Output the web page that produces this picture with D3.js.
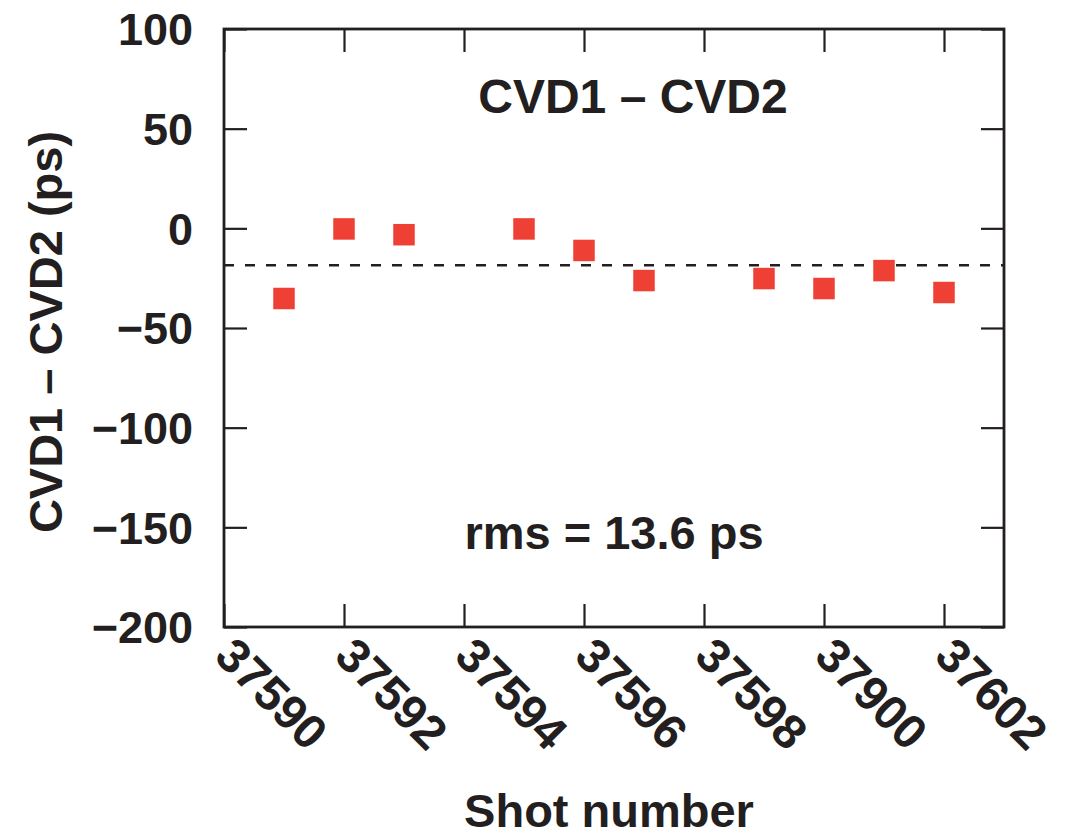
<!DOCTYPE html>
<html>
<head>
<meta charset="utf-8">
<script src="https://cdn.jsdelivr.net/npm/d3@7"></script>
<style>
  body { margin: 0; background: #fff; }
  text { font-family: "Liberation Sans", Arial, Helvetica, sans-serif; font-weight: bold; fill: #231f20; }
</style>
</head>
<body>
<svg id="chart"></svg>
<script>
(function() {

// shot numbers and CVD1 - CVD2 differences (ps)
const shots = [37591, 37592, 37593, 37595, 37596, 37597, 37599, 37600, 37601, 37602];
const diffs = [-35.2, -0.3, -3.2, -0.3, -11.1, -26.2, -25.2, -30.2, -21.2, -32.2];
const meanDiff = -18.5;

const xTickValues = [37590, 37592, 37594, 37596, 37598, 37600, 37602];
const xTickLabels = ["37590", "37592", "37594", "37596", "37598", "37900", "37602"];
const yTickValues = [100, 50, 0, -50, -100, -150, -200];
const yTickLabels = ["100", "50", "0", "\u221250", "\u2212100", "\u2212150", "\u2212200"];

const ink = "#231f20";
const red = "#ef4035";
const margin = { top: 29, right: 61, bottom: 210, left: 224 };
const width = 1065 - margin.left - margin.right;
const height = 837 - margin.top - margin.bottom;
const tickLen = 23;

const svg = d3.select("#chart")
    .attr("width", 1065)
    .attr("height", 837);

const g = svg.append("g")
    .attr("transform", `translate(${margin.left},${margin.top})`);

const x = d3.scaleLinear()
    .domain([37590, 37603])
    .range([0, width]);

const y = d3.scaleLinear()
    .domain([-200, 100])
    .range([height, 0]);

// inward ticks on all four sides
function styleAxis(sel) {
    sel.select(".domain").remove();
    sel.selectAll(".tick line").attr("stroke", ink).attr("stroke-width", 2.2);
    sel.selectAll(".tick text").remove();
}

g.append("g")
    .attr("transform", `translate(0,${height})`)
    .call(d3.axisBottom(x).tickValues(xTickValues).tickSizeInner(-tickLen).tickSizeOuter(0))
    .call(styleAxis);

g.append("g")
    .call(d3.axisTop(x).tickValues(xTickValues).tickSizeInner(-tickLen).tickSizeOuter(0))
    .call(styleAxis);

g.append("g")
    .call(d3.axisLeft(y).tickValues(yTickValues).tickSizeInner(-tickLen).tickSizeOuter(0))
    .call(styleAxis);

g.append("g")
    .attr("transform", `translate(${width},0)`)
    .call(d3.axisRight(y).tickValues(yTickValues).tickSizeInner(-tickLen).tickSizeOuter(0))
    .call(styleAxis);

// frame
g.append("rect")
    .attr("x", 0)
    .attr("y", 0)
    .attr("width", width)
    .attr("height", height)
    .attr("fill", "none")
    .attr("stroke", ink)
    .attr("stroke-width", 2.8);

// y tick labels
g.selectAll(".ylab")
    .data(yTickValues)
    .enter()
    .append("text")
    .attr("class", "ylab")
    .attr("x", -31)
    .attr("y", d => y(d))
    .attr("dy", "0.36em")
    .attr("text-anchor", "end")
    .attr("font-size", 45)
    .text((d, i) => yTickLabels[i]);

// x tick labels, rotated
g.selectAll(".xlab")
    .data(xTickValues)
    .enter()
    .append("text")
    .attr("class", "xlab")
    .attr("transform", d => `translate(${x(d) + 1},${height + 19}) rotate(45)`)
    .attr("dy", "0.36em")
    .attr("text-anchor", "start")
    .attr("font-size", 48)
    .text((d, i) => xTickLabels[i]);

// mean line
g.append("line")
    .attr("x1", 0)
    .attr("x2", width)
    .attr("y1", y(meanDiff))
    .attr("y2", y(meanDiff))
    .attr("stroke", ink)
    .attr("stroke-width", 2.6)
    .attr("stroke-dasharray", "10,11");

// points
const size = 21.5;
g.selectAll(".pt")
    .data(shots)
    .enter()
    .append("rect")
    .attr("class", "pt")
    .attr("x", d => x(d) - size / 2)
    .attr("y", (d, i) => y(diffs[i]) - size / 2)
    .attr("width", size)
    .attr("height", size)
    .attr("fill", red);

// annotations
svg.append("text")
    .attr("x", 633)
    .attr("y", 113)
    .attr("text-anchor", "middle")
    .attr("font-size", 48)
    .text("CVD1 \u2013 CVD2");

svg.append("text")
    .attr("x", 614)
    .attr("y", 549)
    .attr("text-anchor", "middle")
    .attr("font-size", 47)
    .text("rms = 13.6 ps");

// axis titles
svg.append("text")
    .attr("x", 609)
    .attr("y", 827)
    .attr("text-anchor", "middle")
    .attr("font-size", 47)
    .text("Shot number");

svg.append("text")
    .attr("transform", "translate(62,332) rotate(-90)")
    .attr("text-anchor", "middle")
    .attr("font-size", 47)
    .text("CVD1 \u2013 CVD2 (ps)");

})();
</script>
</body>
</html>
